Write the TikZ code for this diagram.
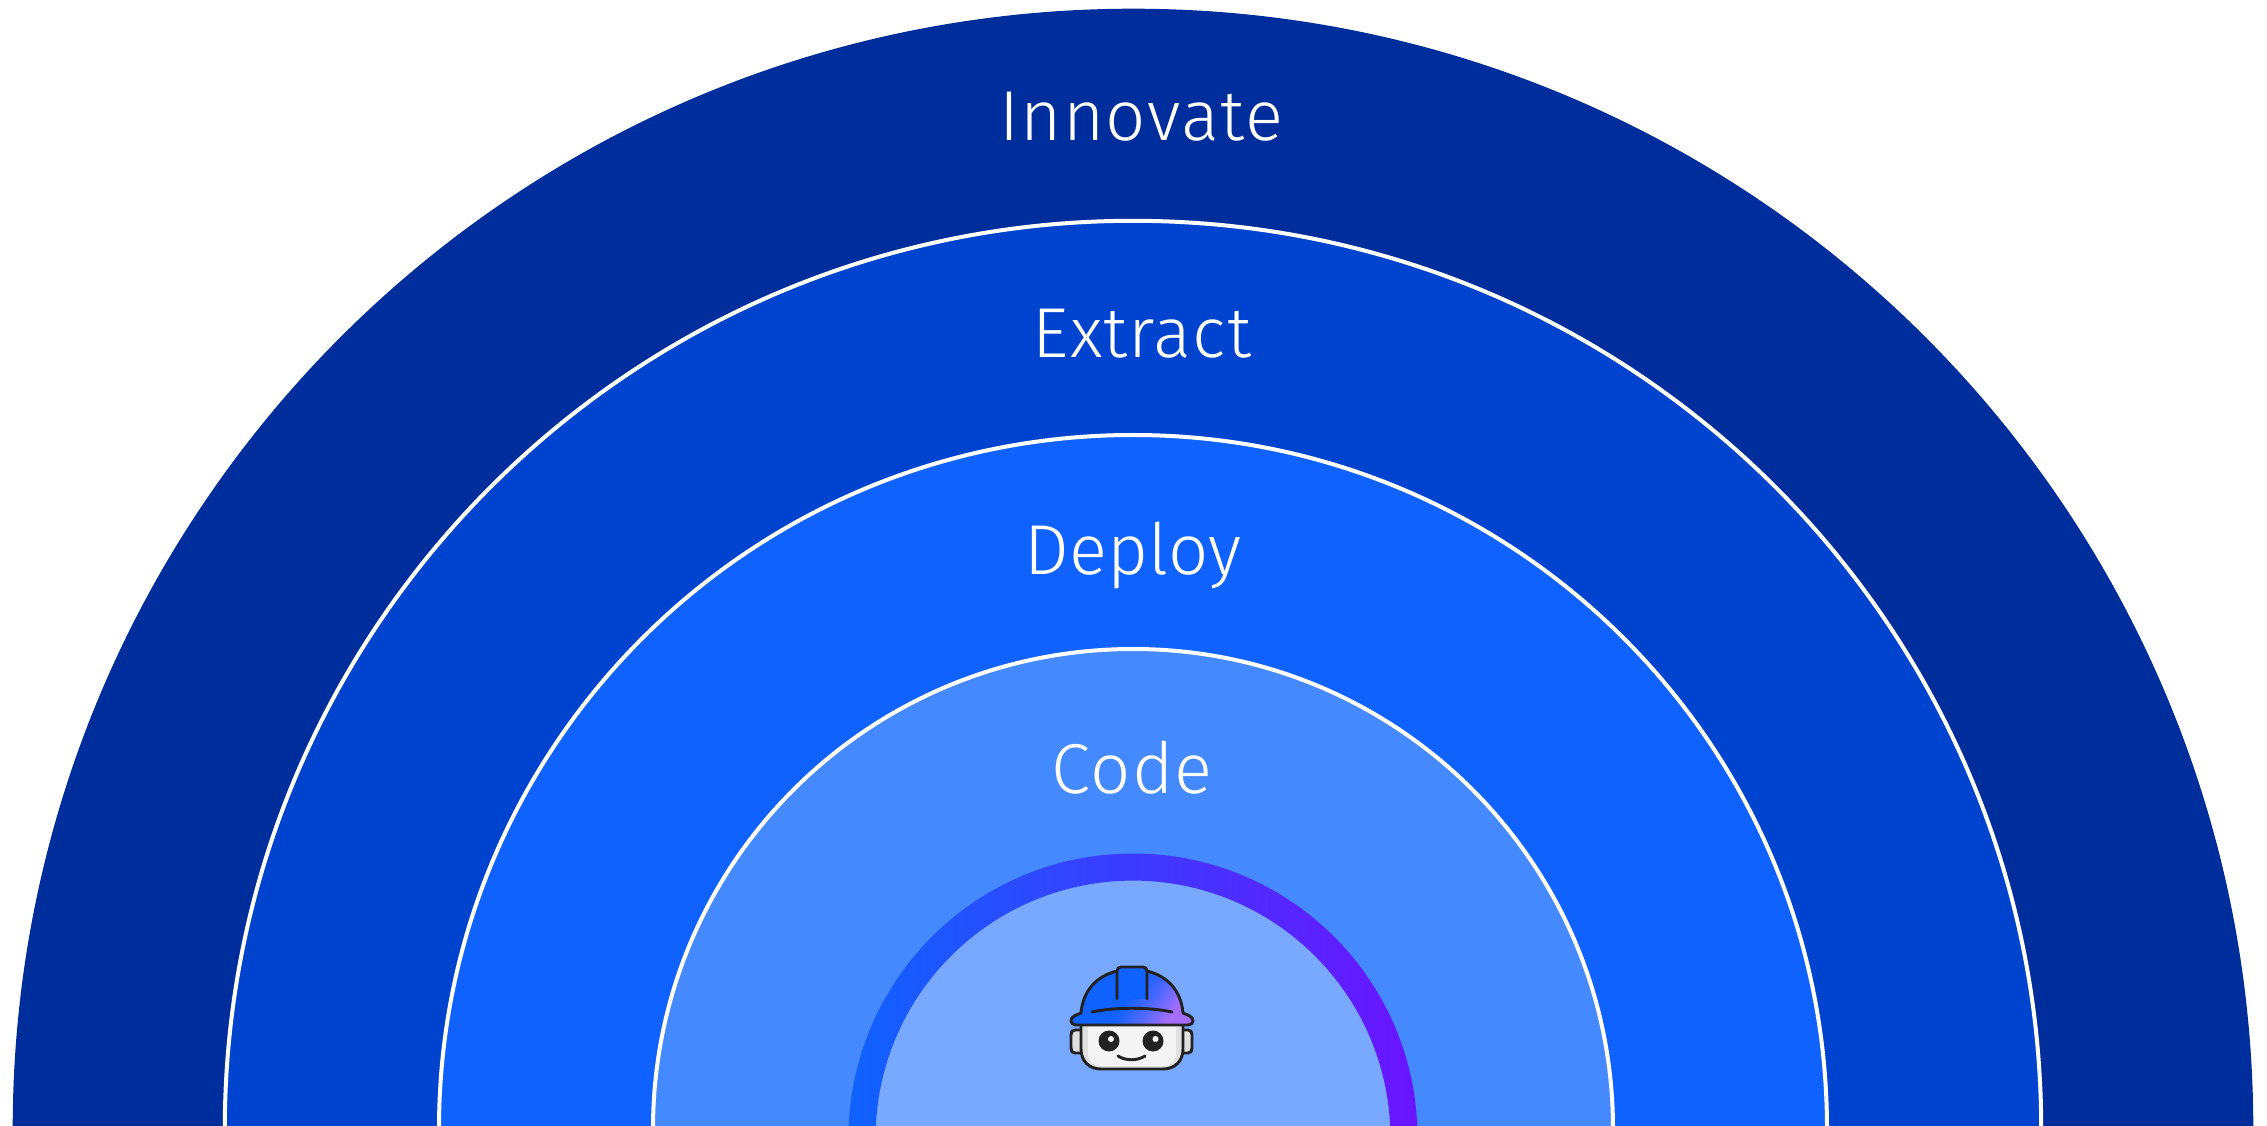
\documentclass[tikz,border=0pt]{standalone}
\usepackage{fontspec}
\setmainfont{Fira Sans Light}
\definecolor{cA}{HTML}{002D9C}
\definecolor{cB}{HTML}{0043CE}
\definecolor{cC}{HTML}{0F62FE}
\definecolor{cD}{HTML}{4589FF}
\definecolor{cE}{HTML}{78A9FF}
\definecolor{cV}{HTML}{6A14FF}
\definecolor{cL}{HTML}{A56EFF}
\definecolor{cM}{HTML}{4F68FF}
\definecolor{ink}{HTML}{222222}
\definecolor{face}{HTML}{F4F4F4}
\definecolor{greyside}{HTML}{E0E0E0}
\pgfdeclarehorizontalshading{helm}{100bp}{color(0bp)=(cC);color(48bp)=(cC);color(60bp)=(cM);color(72bp)=(cL);color(100bp)=(cL)}
\tikzset{
  x=0.75pt,y=-0.75pt,
  band/.style={draw=white,line width=3pt},
  lab/.style={text=white,font=\fontsize{53}{60}\selectfont,anchor=base},
  rob/.style={draw=ink,line width=2.2pt,line cap=round,line join=round},
}
\begin{document}
\begin{tikzpicture}
\useasboundingbox (0,0) rectangle (2267,1126);
\clip (0,0) rectangle (2267,1126);
\fill[cA] (1133,1129) circle (1120.3);
\draw[band,fill=cB] (1133,1129) circle (908.2);
\draw[band,fill=cC] (1133,1129) circle (694);
\draw[band,fill=cD] (1133,1129) circle (480);
\fill[cE] (1133,1138) circle (258);
\path[even odd rule,left color=cC,right color=cV] (1133,1138) circle (284.5) (1133,1138) circle (257.4);
\node[lab] (innovate) at (1141,141) {\addfontfeatures{LetterSpace=2}Innovate};
\node[lab] (extract) at (1142,358) {\addfontfeatures{LetterSpace=1.6}Extract};
\node[lab] (deploy) at (1133,575) {Deploy};
\node[lab] (code) at (1132,793) {\addfontfeatures{LetterSpace=2}Code};
% ears
\draw[rob,fill=greyside] (1081,1030) -- (1075,1030) .. controls (1072,1030) and (1071,1032) .. (1071,1035) -- (1071,1048) .. controls (1071,1051) and (1072,1053) .. (1075,1053) -- (1081,1053);
\draw[rob,fill=greyside] (1183,1030) -- (1188,1030) .. controls (1191,1030) and (1192,1032) .. (1192,1035) -- (1192,1048) .. controls (1192,1051) and (1191,1053) .. (1188,1053) -- (1183,1053);
% head
\path[fill=greyside] (1081,1025) -- (1081,1049) .. controls (1081,1061) and (1089,1069) .. (1101,1069) -- (1163,1069) .. controls (1175,1069) and (1183,1061) .. (1183,1049) -- (1183,1025) -- cycle;
\path[fill=face] (1088,1025) -- (1088,1052) .. controls (1088,1061) and (1093,1066) .. (1102,1066) -- (1162,1066) .. controls (1171,1066) and (1176,1061) .. (1176,1052) -- (1176,1025) -- cycle;
\draw[rob] (1081,1025) -- (1081,1049) .. controls (1081,1061) and (1089,1069) .. (1101,1069) -- (1163,1069) .. controls (1175,1069) and (1183,1061) .. (1183,1049) -- (1183,1025);
% eyes
\fill[ink] (1109,1041) circle (10.5);
\fill[ink] (1153,1041) circle (10.5);
\fill[white] (1111,1039) circle (3);
\fill[white] (1155.5,1039) circle (3);
% mouth
\draw[rob] (1118,1056) .. controls (1126,1061) and (1137,1061) .. (1145,1056);
% helmet
\draw[rob,shading=helm,shading angle=-35]
  (1081,1013) .. controls (1083,990) and (1097,976) .. (1117,971) -- (1147,971)
  .. controls (1167,976) and (1181,990) .. (1183,1013)
  -- (1189,1015.5) .. controls (1195,1018) and (1194,1025) .. (1188,1025)
  -- (1076,1025) .. controls (1070,1025) and (1069,1018) .. (1075,1015.5) -- cycle;
\draw[rob,fill=cC] (1117,999) -- (1117,971) .. controls (1117,968.5) and (1119,967) .. (1121,967) -- (1143,967) .. controls (1145,967) and (1147,968.5) .. (1147,971) -- (1147,999);
\draw[rob] (1092,1012) .. controls (1115,1007) and (1149,1007) .. (1172,1012);
\end{tikzpicture}
\end{document}
